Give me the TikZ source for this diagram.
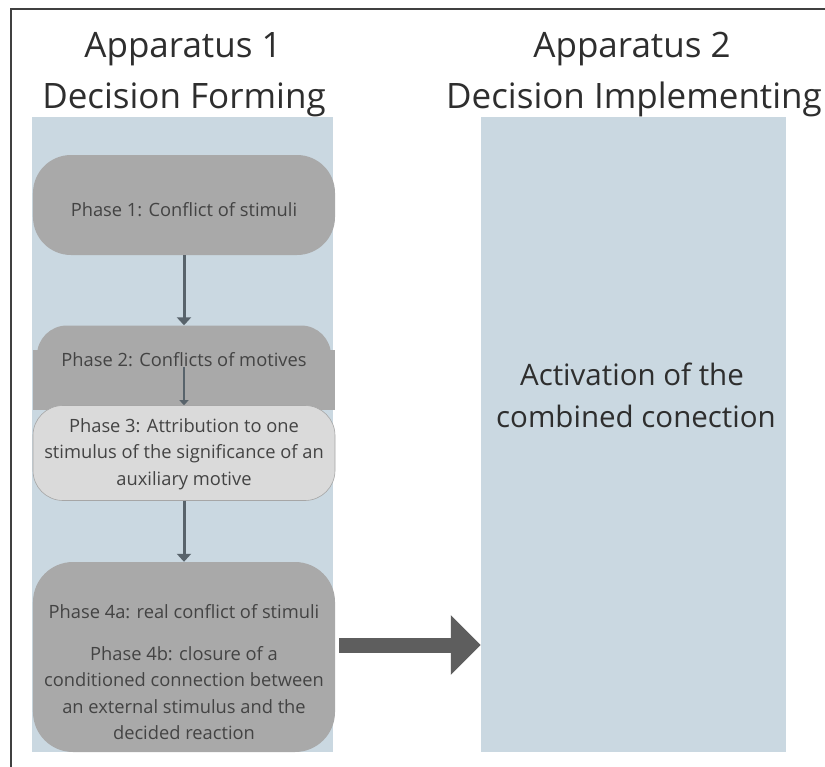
\documentclass[tikz,border=0pt]{standalone}
\usepackage{fontspec}
\setmainfont{Open Sans}
\usetikzlibrary{arrows.meta,calc}
\definecolor{colblue}{HTML}{CAD8E1}
\definecolor{boxgray}{HTML}{A9A9A9}
\definecolor{boxlight}{HTML}{DADADA}
\definecolor{arrowgray}{HTML}{58636B}
\definecolor{bigarrow}{HTML}{5E5E5E}
\definecolor{txt}{HTML}{2E2E2E}
\tikzset{
  col/.style={fill=colblue, draw=none, inner sep=0pt},
  title/.style={anchor=base, inner sep=0pt, text=txt, font=\fontsize{35bp}{42bp}\selectfont},
  phasebox/.style={fill=boxgray, draw=none, rounded corners=38bp, inner sep=0pt, minimum width=302bp},
  phasetext/.style={align=center, inner sep=0pt, text=txt!90, font=\fontsize{18.3bp}{26.5bp}\selectfont},
  flow/.style={draw=arrowgray, line width=3bp, -{Triangle[width=14bp,length=8bp]}},
  thinflow/.style={draw=arrowgray, line width=1.5bp, -{Triangle[width=9bp,length=5bp]}},
  bigflow/.style={draw=bigarrow, line width=15bp, -{Triangle[width=58bp,length=30bp]}},
  acttext/.style={anchor=base, inner sep=0pt, text=txt, font=\fontsize{29.5bp}{40bp}\selectfont},
}
\begin{document}
\begin{tikzpicture}[x=1bp,y=-1bp]
\useasboundingbox (0,0) rectangle (825,767);
\fill[white] (0,0) rectangle (825,767);
\draw[line width=1.5bp, black!75] (11,767) -- (11,9) -- (825,9);

% columns
\node[col, minimum width=301bp, minimum height=635bp] (col1) at (182.5,434.5) {};
\node[col, minimum width=305bp, minimum height=635bp] (col2) at (633.5,434.5) {};

% titles
\node[title] (t1a) at (183,58) {Apparatus 1};
\node[title] (t1b) at (184,108) {Decision Forming};
\node[title] (t2a) at (632,58) {Apparatus 2};
\node[title] (t2b) at (634,108) {Decision Implementing};

% phase 1
\node[phasebox, minimum height=100bp] (p1) at (184,205) {};
\node[phasetext] (p1t) at (184,210) {Phase 1: Conflict of stimuli};

% phase 2
\node[phasebox, rounded corners=30bp, minimum width=294bp, minimum height=85bp] (p2) at (184,368) {};
\fill[boxgray] (33,350) rectangle (335,410);
\node[phasetext] (p2t) at (184,360) {Phase 2: Conflicts of motives};

% phase 3
\node[phasebox, fill=boxlight, draw=black!35, line width=0.6bp, rounded corners=30bp, minimum height=95bp] (p3) at (184,453) {};
\node[phasetext] (p3t) at (184,454) {Phase 3: Attribution to one\\stimulus of the significance of an\\auxiliary motive};

% phase 4
\node[phasebox, rounded corners=40bp, minimum height=190bp] (p4) at (184,657) {};
\node[phasetext] (p4a) at (184,612) {Phase 4a: real conflict of stimuli};
\node[phasetext] (p4b) at (184,693) {Phase 4b: closure of a\\conditioned connection between\\an external stimulus and the\\decided reaction};

% activation text
\node[acttext] (acta) at (632,385) {Activation of the};
\node[acttext] (actb) at (636,427) {combined conection};

% connectors
\draw[flow] (p1.south) -- (p2.north);
\draw[thinflow] (p2t.south) -- (p3.north);
\draw[flow] (p3.south) -- (p4.north);
\draw[bigflow] ($(p4.east)+(4,-12)$) -- ($(col2.west |- p4.east)+(0,-12)$);
\end{tikzpicture}
\end{document}
